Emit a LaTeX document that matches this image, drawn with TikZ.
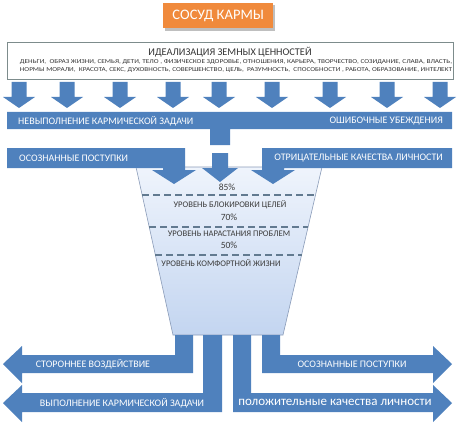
\documentclass[tikz,border=0pt]{standalone}
\usepackage{graphicx}
\usepackage{fontspec}
\setmainfont{Carlito}
\definecolor{barblue}{HTML}{4F81BD}
\definecolor{kborange}{HTML}{F08A3C}
\definecolor{boxgray}{HTML}{7D8C8C}
\definecolor{vesseltop}{HTML}{EFF4FC}
\definecolor{vesselbot}{HTML}{C3D5F0}
\definecolor{vesseledge}{HTML}{8A9BB8}
\definecolor{dashc}{HTML}{627A90}
\definecolor{vtext}{HTML}{3C3C3C}
\tikzset{
  bluesh/.style={fill=barblue,draw=none},
  bartext/.style={text=white,font=\fontsize{10}{11}\selectfont,inner sep=0pt},
  vtxt/.style={text=vtext,font=\fontsize{8.6}{9}\selectfont,inner sep=0pt},
  pct/.style={text=vtext,font=\fontsize{9.5}{10}\selectfont,inner sep=0pt},
  levelline/.style={draw=dashc,line width=1.6pt,dash pattern=on 7pt off 4pt},
  smalltxt/.style={text=black!80,font=\fontsize{6}{6}\selectfont,inner sep=0pt},
}
\newcommand{\downarrowat}[1]{%
  \fill[barblue] (#1-7.5,82) -- (#1+7.5,82) -- (#1+7.5,97) -- (#1+16,97) -- (#1,108) -- (#1-16,97) -- (#1-7.5,97) -- cycle;}
\begin{document}
\begin{tikzpicture}[x=1pt,y=-1pt]
\useasboundingbox (0,0) rectangle (460,425);
% title
\fill[black!25] (165,5) rectangle (275,31);
\node[fill=kborange,minimum width=110pt,minimum height=25pt,inner sep=0pt,anchor=north west,
  text=white,font=\fontsize{14.5}{16}\selectfont] (title) at (163,3) {СОСУД КАРМЫ};
% values box
\node[draw=boxgray,line width=1.4pt,minimum width=446pt,minimum height=37pt,anchor=north west,inner sep=0pt] (values) at (7,42) {};
\node[text=black!80,font=\fontsize{10.3}{11}\selectfont,inner sep=0pt] (vtitle) at (230,52) {ИДЕАЛИЗАЦИЯ ЗЕМНЫХ ЦЕННОСТЕЙ};
\node[smalltxt] (vline1) at (236,62) {\resizebox{432pt}{\height}{ДЕНЬГИ,~ ОБРАЗ ЖИЗНИ, СЕМЬЯ, ДЕТИ, ТЕЛО , ФИЗИЧЕСКОЕ ЗДОРОВЬЕ, ОТНОШЕНИЯ, КАРЬЕРА, ТВОРЧЕСТВО, СОЗИДАНИЕ, СЛАВА, ВЛАСТЬ,}};
\node[smalltxt] (vline2) at (236,70) {\resizebox{432pt}{\height}{НОРМЫ МОРАЛИ,~ КРАСОТА, СЕКС, ДУХОВНОСТЬ, СОВЕРШЕНСТВО, ЦЕЛЬ,~ РАЗУМНОСТЬ,~ СПОСОБНОСТИ , РАБОТА, ОБРАЗОВАНИЕ, ИНТЕЛЕКТ}};
% nine down arrows
\foreach \c in {19,67,120,173,219,272,330,387,440} {\downarrowat{\c}}
% top bar with stem
\fill[barblue] (7,112) -- (452,112) -- (452,129) -- (230,129) -- (230,145) -- (210,145) -- (210,129) -- (7,129) -- cycle;
\node[bartext,anchor=west] (nevyp) at (18,121) {НЕВЫПОЛНЕНИЕ КАРМИЧЕСКОЙ ЗАДАЧИ};
\node[bartext,anchor=east] (oshib) at (443,121) {ОШИБОЧНЫЕ УБЕЖДЕНИЯ};
% vessel
\shade[top color=vesseltop,bottom color=vesselbot] (136,167) -- (322,167) -- (283,335) -- (173,335) -- cycle;
\draw[vesseledge,line width=0.6pt] (136,167) -- (322,167) -- (283,335) -- (173,335) -- cycle;
\coordinate (l1a) at (142.2,195); \coordinate (l1b) at (315.5,195);
\coordinate (l2a) at (149.2,227); \coordinate (l2b) at (308.1,227);
\coordinate (l3a) at (155.4,255); \coordinate (l3b) at (301.6,255);
\draw[levelline] (l1a) -- (l1b);
\draw[levelline] (l2a) -- (l2b);
\draw[levelline] (l3a) -- (l3b);
\node[pct] (p85) at (227,187) {85\%};
\node[vtxt] (lev1) at (230,205) {УРОВЕНЬ БЛОКИРОВКИ ЦЕЛЕЙ};
\node[pct] (p70) at (229,217) {70\%};
\node[vtxt] (lev2) at (229,234) {УРОВЕНЬ НАРАСТАНИЯ ПРОБЛЕМ};
\node[pct] (p50) at (229,245) {50\%};
\node[vtxt] (lev3) at (221,263) {УРОВЕНЬ КОМФОРТНОЙ ЖИЗНИ};
% second row bent arrows
\fill[barblue] (7,148) -- (185,148) -- (185,170) -- (196,170) -- (174,184) -- (152,170) -- (163,170) -- (163,168) -- (7,168) -- cycle;
\fill[barblue] (452,148) -- (262,148) -- (262,170) -- (251,170) -- (273,184) -- (295,170) -- (284,170) -- (284,168) -- (452,168) -- cycle;
\fill[barblue] (212,153) -- (228,153) -- (228,168) -- (238,168) -- (220,182) -- (202,168) -- (212,168) -- cycle;
\node[bartext,anchor=west] (osozn1) at (19,158) {ОСОЗНАННЫЕ ПОСТУПКИ};
\node[bartext,anchor=east] (otric) at (443,158) {ОТРИЦАТЕЛЬНЫЕ КАЧЕСТВА ЛИЧНОСТИ};
% bottom arrows
\fill[barblue] (193,335) -- (193,373) -- (22,373) -- (22,383) -- (3,364) -- (22,346) -- (22,355) -- (175,355) -- (175,335) -- cycle;
\fill[barblue] (222,335) -- (222,412) -- (22,412) -- (22,422) -- (3,403) -- (22,385) -- (22,393) -- (203,393) -- (203,335) -- cycle;
\fill[barblue] (233,335) -- (233,412) -- (433,412) -- (433,422) -- (452,403) -- (433,385) -- (433,393) -- (251,393) -- (251,335) -- cycle;
\fill[barblue] (280,335) -- (280,355) -- (433,355) -- (433,346) -- (452,364) -- (433,383) -- (433,373) -- (262,373) -- (262,335) -- cycle;
\node[bartext] (storon) at (93,364) {СТОРОННЕЕ ВОЗДЕЙСТВИЕ};
\node[bartext] (vypoln) at (122,403) {ВЫПОЛНЕНИЕ КАРМИЧЕСКОЙ ЗАДАЧИ};
\node[bartext] (osozn2) at (352,364) {ОСОЗНАННЫЕ ПОСТУПКИ};
\node[bartext,font=\fontsize{13}{14}\selectfont] (polozh) at (335,402) {положительные качества личности};
\end{tikzpicture}
\end{document}
